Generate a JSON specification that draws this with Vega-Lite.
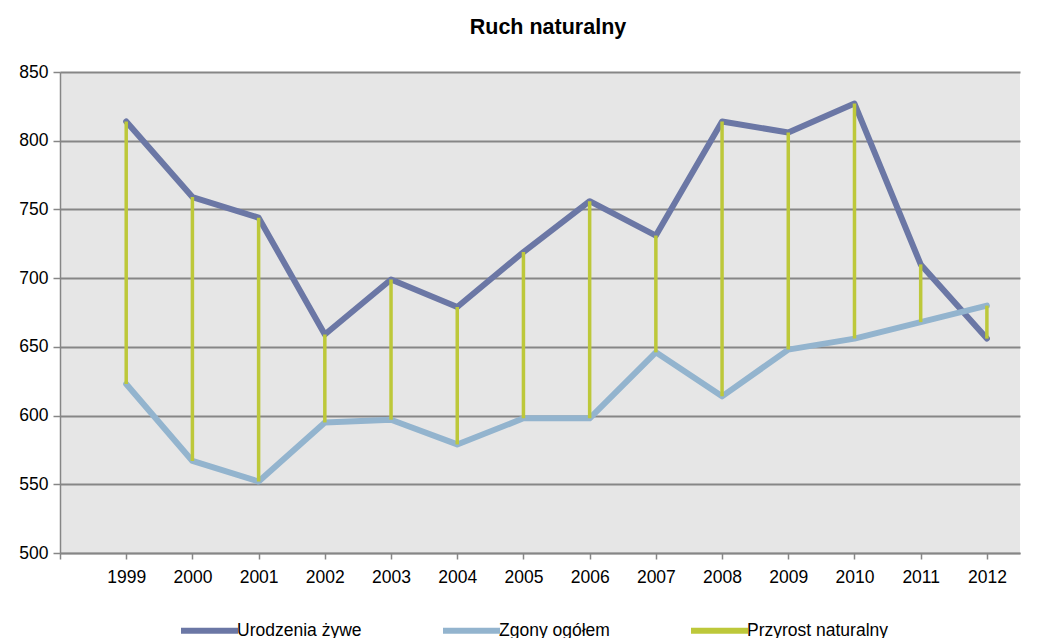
{
  "$schema": "https://vega.github.io/schema/vega-lite/v6.json",
  "width": 960,
  "height": 481,
  "autosize": {"type": "none"},
  "padding": {"left": 60, "top": 72, "right": 25, "bottom": 85},
  "background": "white",
  "title": {
    "text": "Ruch naturalny",
    "font": "Liberation Sans",
    "fontSize": 21.5,
    "fontWeight": "bold",
    "color": "black",
    "anchor": "middle",
    "frame": "group",
    "offset": 25,
    "dx": 8
  },
  "config": {
    "view": {"fill": "#E6E6E6", "stroke": null},
    "axis": {
      "labelFont": "Liberation Sans",
      "labelFontSize": 17.5,
      "labelColor": "black",
      "domainColor": "#868686",
      "domainWidth": 1.5,
      "tickColor": "#868686",
      "tickWidth": 1.5,
      "gridColor": "#868686",
      "gridWidth": 2,
      "title": null
    },
    "legend": {
      "labelFont": "Liberation Sans",
      "labelFontSize": 17.5,
      "labelColor": "black"
    }
  },
  "data": {
    "values": [
      {"year": 1999, "births": 814, "deaths": 623},
      {"year": 2000, "births": 759, "deaths": 567},
      {"year": 2001, "births": 744, "deaths": 552},
      {"year": 2002, "births": 659, "deaths": 595},
      {"year": 2003, "births": 699, "deaths": 597},
      {"year": 2004, "births": 679, "deaths": 579},
      {"year": 2005, "births": 719, "deaths": 598},
      {"year": 2006, "births": 756, "deaths": 598},
      {"year": 2007, "births": 731, "deaths": 646},
      {"year": 2008, "births": 814, "deaths": 614},
      {"year": 2009, "births": 806, "deaths": 648},
      {"year": 2010, "births": 827, "deaths": 656},
      {"year": 2011, "births": 710, "deaths": 668},
      {"year": 2012, "births": 656, "deaths": 680}
    ]
  },
  "encoding": {
    "x": {
      "field": "year",
      "type": "quantitative",
      "scale": {"domain": [1998, 2012.5], "nice": false, "zero": false},
      "axis": {
        "values": [1998, 1999, 2000, 2001, 2002, 2003, 2004, 2005, 2006, 2007, 2008, 2009, 2010, 2011, 2012],
        "labelExpr": "datum.value == 1998 ? '' : format(datum.value, 'd')",
        "grid": false,
        "tickSize": 6,
        "labelPadding": 9,
        "labelFlush": false
      }
    }
  },
  "layer": [
    {
      "transform": [{"fold": ["births", "deaths"], "as": ["series", "value"]}],
      "mark": {"type": "line", "strokeWidth": 6, "strokeCap": "round", "strokeJoin": "round"},
      "encoding": {
        "y": {
          "field": "value",
          "type": "quantitative",
          "scale": {"domain": [500, 850], "nice": false, "zero": false},
          "axis": {
            "values": [500, 550, 600, 650, 700, 750, 800, 850],
            "tickSize": 7,
            "labelPadding": 5,
            "grid": true
          }
        },
        "color": {
          "field": "series",
          "type": "nominal",
          "scale": {
            "domain": ["births", "deaths", "natural"],
            "range": ["#6B77A5", "#93B4CE", "#BDC83A"]
          },
          "legend": {
            "title": null,
            "orient": "none",
            "legendX": 118,
            "legendY": 527,
            "direction": "horizontal",
            "symbolType": "stroke",
            "symbolSize": 3249,
            "symbolStrokeWidth": 6,
            "labelOffset": -4,
            "columnPadding": 69,
            "labelExpr": "datum.label == 'births' ? 'Urodzenia żywe' : datum.label == 'deaths' ? 'Zgony ogółem' : 'Przyrost naturalny'"
          }
        }
      }
    },
    {
      "mark": {"type": "rule", "strokeWidth": 3.5},
      "encoding": {
        "y": {"field": "deaths", "type": "quantitative"},
        "y2": {"field": "births"},
        "color": {"datum": "natural"}
      }
    }
  ]
}
